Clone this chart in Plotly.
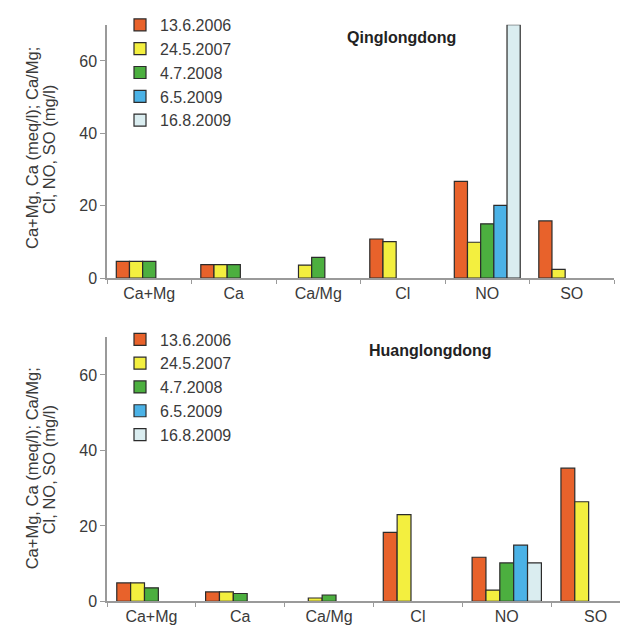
import plotly.graph_objects as go

categories = ["Ca+Mg", "Ca", "Ca/Mg", "Cl", "NO", "SO"]
dates = ["13.6.2006", "24.5.2007", "4.7.2008", "6.5.2009", "16.8.2009"]
colors = ["#E8622B", "#F3EF3F", "#4CAF3F", "#4BB2E6", "#DAEDF0"]

# Qinglongdong
q_2006 = [4.6, 3.7, None, 10.8, 26.7, 15.8]
q_2007 = [4.6, 3.7, 3.6, 10.1, 9.9, 2.4]
q_2008 = [4.6, 3.7, 5.7, None, 15.0, None]
q_2009a = [None, None, None, None, 20.1, None]
q_2009b = [None, None, None, None, 70.0, None]

# Huanglongdong
h_2006 = [4.9, 2.5, None, 18.3, 11.7, 35.3]
h_2007 = [4.9, 2.5, 0.9, 23.0, 3.0, 26.4]
h_2008 = [3.6, 2.1, 1.7, None, 10.2, None]
h_2009a = [None, None, None, None, 14.9, None]
h_2009b = [None, None, None, None, 10.2, None]

y_ticks = [0, 20, 40, 60]

W, H = 628, 630
FONT = "Liberation Sans, Arial, sans-serif"
TXT = "#3a3a3a"
AX = "#9a9a9a"

fig = go.Figure()
top = [q_2006, q_2007, q_2008, q_2009a, q_2009b]
bot = [h_2006, h_2007, h_2008, h_2009a, h_2009b]
for i, (d, c) in enumerate(zip(dates, colors)):
    fig.add_trace(go.Bar(x=categories, y=top[i], name=d, marker_color=c,
                         marker_line=dict(color="#2b2b2b", width=1.2),
                         xaxis="x", yaxis="y", legend="legend"))
for i, (d, c) in enumerate(zip(dates, colors)):
    fig.add_trace(go.Bar(x=categories, y=bot[i], name=d, marker_color=c,
                         marker_line=dict(color="#2b2b2b", width=1.2),
                         xaxis="x2", yaxis="y2", legend="legend2"))

def px_x(v):
    return v / W

def px_y(v):
    return 1 - v / H

xcommon = dict(type="category", showline=True, linecolor=AX, linewidth=1.5,
               ticks="outside", tickson="boundaries", ticklen=4, tickcolor=AX,
               tickfont=dict(family=FONT, size=16, color=TXT), showgrid=False,
               fixedrange=True)
ycommon = dict(range=[0, 70], tickvals=y_ticks, showline=True, linecolor=AX,
               linewidth=1.5, ticks="outside", ticklen=5, tickcolor=AX,
               tickfont=dict(family=FONT, size=16, color=TXT), showgrid=False,
               zeroline=False)

fig.update_layout(
    width=W, height=H,
    margin=dict(l=0, r=0, t=0, b=0),
    paper_bgcolor="white", plot_bgcolor="white",
    barmode="group", bargap=0.22, bargroupgap=0,
    xaxis=dict(domain=[px_x(99), px_x(606)], anchor="y", range=[-0.5, 5.5], **xcommon),
    yaxis=dict(domain=[px_y(274), px_y(17)], anchor="x", **ycommon),
    xaxis2=dict(domain=[px_x(99), 1.0], anchor="y2", range=[-0.5, 5.455], **xcommon),
    yaxis2=dict(domain=[px_y(602), px_y(334)], anchor="x2", **ycommon),
    legend=dict(x=px_x(112), y=px_y(0), xanchor="left", yanchor="top",
                bgcolor="rgba(0,0,0,0)", font=dict(family=FONT, size=16, color=TXT)),
    legend2=dict(x=px_x(112), y=px_y(319), xanchor="left", yanchor="top",
                 bgcolor="rgba(0,0,0,0)", font=dict(family=FONT, size=16, color=TXT)),
    showlegend=True,
)

annots = [
    dict(text="<b>Qinglongdong</b>", x=px_x(393), y=px_y(30)),
    dict(text="<b>Huanglongdong</b>", x=px_x(422), y=px_y(347)),
]
for a in annots:
    fig.add_annotation(xref="paper", yref="paper", showarrow=False,
                       xanchor="center", yanchor="middle",
                       font=dict(family=FONT, size=16, color="#222222"), **a)

for yc in (142, 467):
    fig.add_annotation(text="Ca+Mg, Ca (meq/l); Ca/Mg;", xref="paper", yref="paper",
                       x=px_x(24), y=px_y(yc), textangle=-90, showarrow=False,
                       xanchor="center", yanchor="middle",
                       font=dict(family=FONT, size=16.5, color=TXT))
    fig.add_annotation(text="Cl, NO, SO (mg/l)", xref="paper", yref="paper",
                       x=px_x(41), y=px_y(yc + 2), textangle=-90, showarrow=False,
                       xanchor="center", yanchor="middle",
                       font=dict(family=FONT, size=16.5, color=TXT))

fig.write_html("out.html")
